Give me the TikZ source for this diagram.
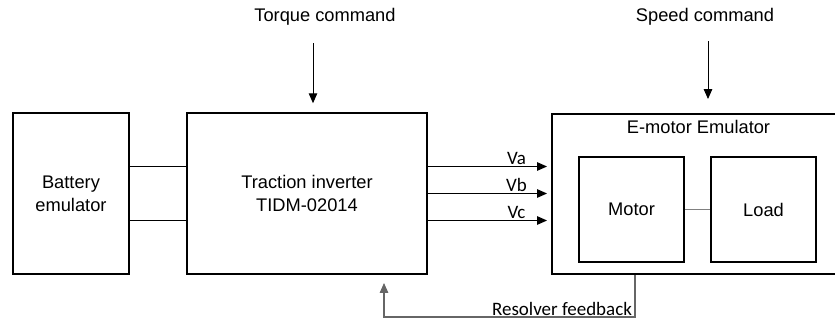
\documentclass[tikz,border=0pt]{standalone}
\usepackage{fontspec}
\setmainfont{Liberation Sans}
\newfontfamily\sigfont{Carlito}
\usepackage{tikz}
\usetikzlibrary{arrows.meta, positioning}

\begin{document}
\begin{tikzpicture}[>={Triangle[length=7pt, width=6pt]},
  font=\fontsize{13}{16.4}\selectfont,
  block/.style={draw, line width=1.4pt, align=center, inner sep=0pt},
  wire/.style={line width=0.7pt},
  fbline/.style={line width=0.8pt, black!60},
  siglabel/.style={font=\sigfont\fontsize{13.5}{15}\selectfont, inner sep=1pt}]
  \useasboundingbox (0,0) rectangle (20.875,8.1);

  % blocks
  \node[block, minimum width=2.9cm, minimum height=4.025cm] (battery) at (1.775,3.2625) {Battery\\emulator};
  \node[block, minimum width=6.0cm, minimum height=4.025cm] (inverter) at (7.675,3.2625) {Traction inverter\\TIDM-02014};
  \node[block, minimum width=7.325cm, minimum height=4.0cm] (emotor) at (17.4625,3.25) {};
  \node[below=0.05cm of emotor.north] (title) {E-motor Emulator};
  \node[block, minimum width=2.625cm, minimum height=2.625cm] (motor) at (15.7875,2.8625) {Motor};
  \node[block, minimum width=2.625cm, minimum height=2.625cm] (load) at (19.0875,2.8625) {Load};
  \draw[line width=1.1pt, gray] (motor) -- (load);

  % commands
  \node (torque) at (8.125,7.675) {Torque command};
  \node (speed) at (17.625,7.675) {Speed command};
  \coordinate (tq) at (7.825,7.025);
  \coordinate (sp) at (17.7,7.075);
  \draw[wire, ->, shorten >=0.22cm] (tq) -- (tq |- inverter.north);
  \draw[wire, ->, shorten >=0.35cm] (sp) -- (sp |- emotor.north);

  % dc link
  \draw[wire] ([yshift=0.675cm]battery.east) -- ([yshift=0.675cm]inverter.west);
  \draw[wire] ([yshift=-0.675cm]battery.east) -- ([yshift=-0.675cm]inverter.west);

  % phases
  \draw[wire, ->, shorten >=0.1cm] ([yshift=0.675cm]inverter.east) -- node[pos=0.72, above, siglabel] {Va} ([yshift=0.675cm]inverter.east -| emotor.west);
  \draw[wire, ->, shorten >=0.1cm] (inverter.east) -- node[pos=0.72, above, siglabel] {Vb} (inverter.east -| emotor.west);
  \draw[wire, ->, shorten >=0.1cm] ([yshift=-0.675cm]inverter.east) -- node[pos=0.72, above, siglabel] {Vc} ([yshift=-0.675cm]inverter.east -| emotor.west);

  % feedback
  \coordinate (fb) at (15.875,0.175);
  \draw[fbline, ->, shorten >=0.2cm] (emotor.south -| fb) -- (fb) -| ([xshift=1.925cm]inverter.south);
  \node[siglabel, anchor=south east, xshift=-1pt] (resolver) at (fb) {Resolver feedback};
\end{tikzpicture}
\end{document}
